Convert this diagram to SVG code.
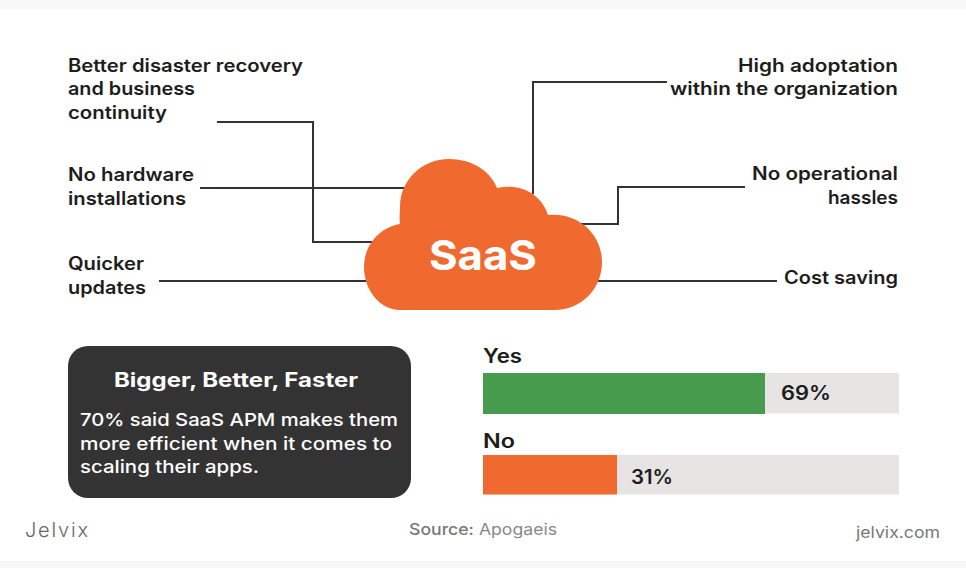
<svg xmlns="http://www.w3.org/2000/svg" width="966" height="568" viewBox="0 0 966 568">
<style>
text{font-family:Inter,"Open Sans","Liberation Sans",sans-serif;font-weight:500}
.l{font-size:18px;fill:#1d1d1b;font-weight:600}
.b{font-size:19.500px}
.r{text-anchor:end}
.c{fill:none;stroke:#333;stroke-width:2}
.w{fill:#fff}
.g{fill:#777;font-size:15.5px}
</style>
<rect width="966" height="568" fill="#fff"/>
<rect width="966" height="9" fill="#f8f8f8"/>
<rect y="561" width="966" height="7" fill="#f6f6f6"/>
<g id="connectors">
<path class="c" d="M217 122H313V242H372"/>
<path class="c" d="M200 188H408"/>
<path class="c" d="M159 281H368"/>
<path class="c" d="M533 194V82H667"/>
<path class="c" d="M580 224H618V187H745"/>
<path class="c" d="M598 281H777"/>
</g>
<g id="cloud">
<path fill="#f06a30" d="M400 224C399 218 400 213 400 207C400 180 422 159 449 159C471 159 490 170 497 188C521 183 541 194 548 215C578 212 602 234 602 262C602 290 580 310 555 310H400C380 310 364 290 364 267C364 245 380 227 400 224Z"/>
<text x="429" y="270" font-size="41" class="w" style="font-weight:700" textLength="108" lengthAdjust="spacingAndGlyphs">SaaS</text>
</g>
<g id="n1"><text class="l" x="68" y="72" textLength="235" lengthAdjust="spacingAndGlyphs">Better disaster recovery</text><text class="l" x="68" y="95" textLength="127" lengthAdjust="spacingAndGlyphs">and business</text><text class="l" x="68" y="119" textLength="99" lengthAdjust="spacingAndGlyphs">continuity</text></g>
<g id="n2"><text class="l" x="68" y="181" textLength="126" lengthAdjust="spacingAndGlyphs">No hardware</text><text class="l" x="68" y="205" textLength="118" lengthAdjust="spacingAndGlyphs">installations</text></g>
<g id="n3"><text class="l" x="68" y="270" textLength="76" lengthAdjust="spacingAndGlyphs">Quicker</text><text class="l" x="68" y="294" textLength="78" lengthAdjust="spacingAndGlyphs">updates</text></g>
<g id="n4"><text class="l r" x="898" y="72" textLength="160" lengthAdjust="spacingAndGlyphs">High adoptation</text><text class="l r" x="898" y="95" textLength="228" lengthAdjust="spacingAndGlyphs">within the organization</text></g>
<g id="n5"><text class="l r" x="898" y="180" textLength="146" lengthAdjust="spacingAndGlyphs">No operational</text><text class="l r" x="898" y="204" textLength="70" lengthAdjust="spacingAndGlyphs">hassles</text></g>
<g id="n6"><text class="l r" x="898" y="284" textLength="114" lengthAdjust="spacingAndGlyphs">Cost saving</text></g>
<g id="callout">
<rect x="68" y="346" width="343" height="152" rx="20" fill="#333"/>
<text class="w" x="236" y="387" text-anchor="middle" font-size="20" style="font-weight:700" textLength="244" lengthAdjust="spacingAndGlyphs">Bigger, Better, Faster</text>
<text class="w" x="80" y="426" font-size="17.500" textLength="318" lengthAdjust="spacingAndGlyphs">70% said SaaS APM makes them</text>
<text class="w" x="80" y="450" font-size="17.500" textLength="312" lengthAdjust="spacingAndGlyphs">more efficient when it comes to</text>
<text class="w" x="80" y="473" font-size="17.500" textLength="179" lengthAdjust="spacingAndGlyphs">scaling their apps.</text>
</g>
<g id="bar-yes">
<text class="l b" x="483" y="363" textLength="39" lengthAdjust="spacingAndGlyphs">Yes</text>
<rect x="483" y="373" width="416" height="40.500" fill="#e6e5e3"/>
<rect x="483" y="373" width="282" height="41" fill="#469b4c"/>
<text class="l b" x="781" y="400" textLength="50" lengthAdjust="spacingAndGlyphs">69%</text>
</g>
<g id="bar-no">
<text class="l b" x="483" y="448" textLength="32" lengthAdjust="spacingAndGlyphs">No</text>
<rect x="483" y="455" width="416" height="39.500" fill="#e6e5e3"/>
<rect x="483" y="455" width="134" height="39.500" fill="#f06a30"/>
<text class="l b" x="631" y="484" textLength="42" lengthAdjust="spacingAndGlyphs">31%</text>
</g>
<g id="footer">
<text x="25" y="537" font-size="20" fill="#666" style="font-weight:300" textLength="63">Jelvix</text>
<text class="g" x="409" y="535" textLength="148" lengthAdjust="spacingAndGlyphs"><tspan style="font-weight:500">Source:</tspan><tspan fill="#888" style="font-weight:400"> Apogaeis</tspan></text>
<text class="g r" x="940" y="538" textLength="84" lengthAdjust="spacingAndGlyphs" style="font-weight:400">jelvix.com</text>
</g>
</svg>
